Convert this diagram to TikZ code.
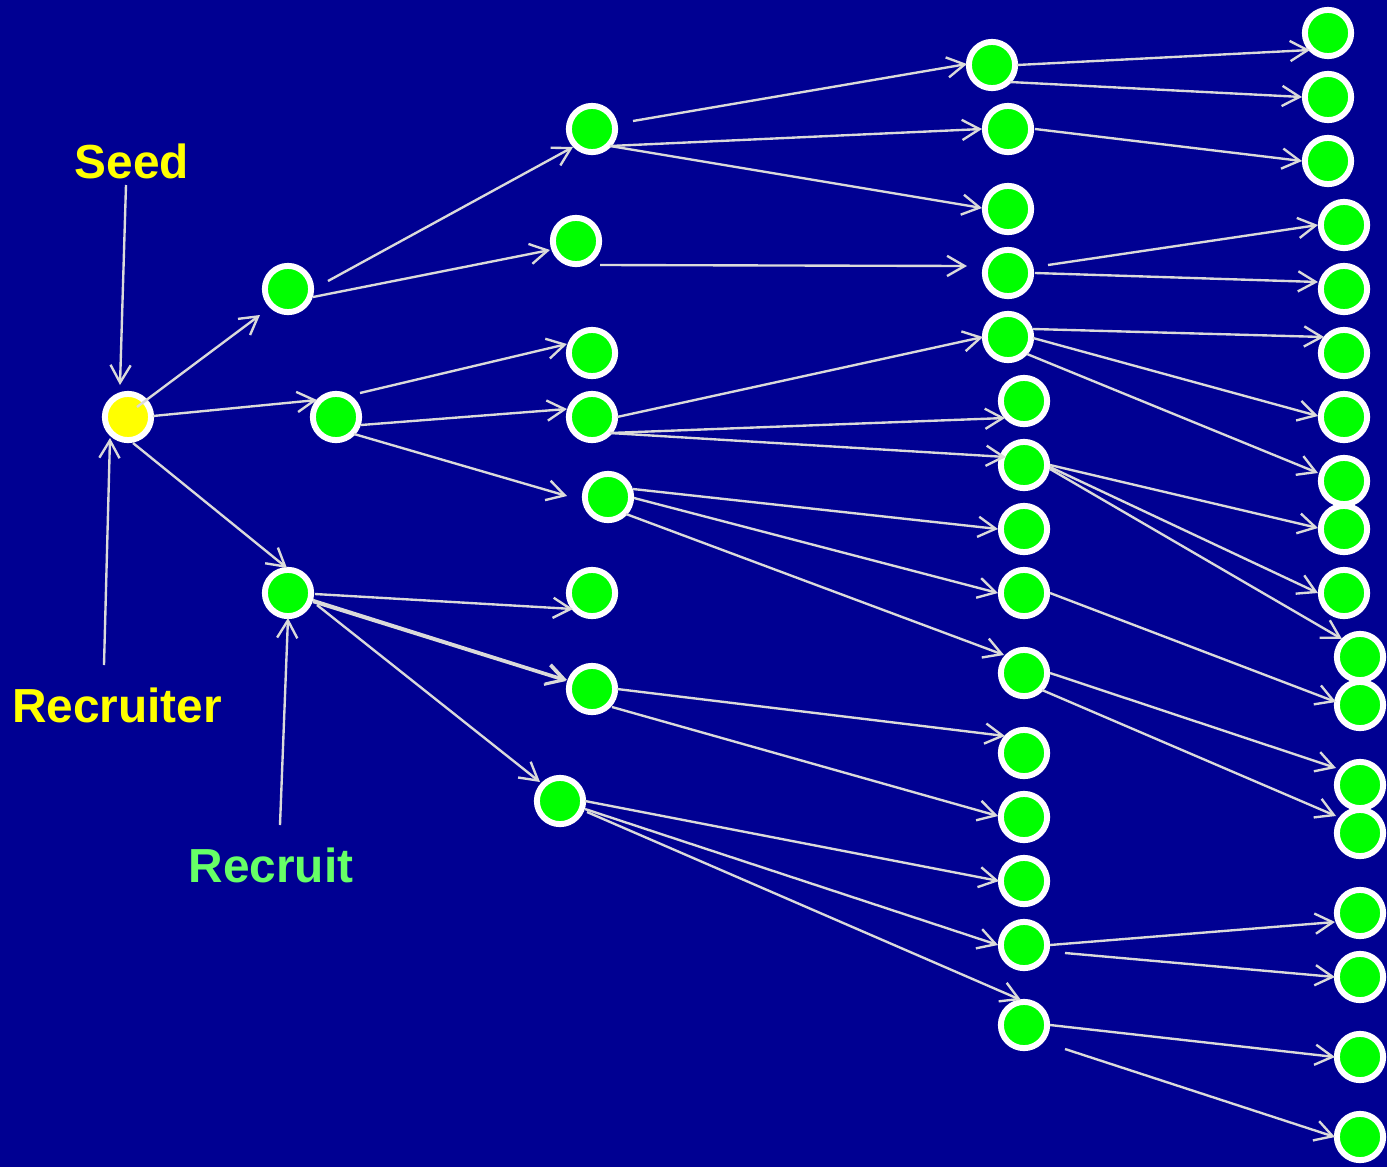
\documentclass[tikz,border=0pt]{standalone}
\usepackage{fontspec}
\setmainfont{Liberation Sans}
\usetikzlibrary{arrows.meta}
\definecolor{bgblue}{RGB}{0,0,146}
\definecolor{edgegray}{RGB}{218,218,218}
\definecolor{nodegreen}{RGB}{0,255,0}
\definecolor{seedyellow}{RGB}{255,255,0}
\definecolor{recruitgreen}{RGB}{102,255,102}
\newcommand\lk[4]{\draw[arr] ([shift={(#2)}]#1.center) -- ([shift={(#4)}]#3.center);}
\begin{document}
\begin{tikzpicture}[x=0.02cm,y=-0.02cm,
  person/.style={circle,draw=white,line width=3.4pt,fill=nodegreen,minimum size=0.925cm,inner sep=0pt},
  seedperson/.style={person,fill=seedyellow},
  arr/.style={draw=edgegray,line width=1.35pt,-{Straight Barb[length=10pt,width=11.5pt,line width=1.35pt]}},
  lbl/.style={font=\fontsize{27.2}{32}\selectfont\bfseries,anchor=base,inner sep=0pt}]
\path[fill=bgblue] (0,0) rectangle (1387,1167);
% labels
\node[lbl,text=seedyellow] (seedlbl) at (132,178) {Seed};
\node[lbl,text=seedyellow] (recruiterlbl) at (117,722) {Recruiter};
\node[lbl,text=recruitgreen] (recruitlbl) at (271,882) {Recruit};
% nodes
\node[seedperson] (S) at (128,417) {};
\node[person] (A1) at (288,289) {};
\node[person] (A2) at (336,417) {};
\node[person] (A3) at (288,593) {};
\node[person] (B1) at (592,129) {};
\node[person] (B2) at (576,241) {};
\node[person] (B3) at (592,353) {};
\node[person] (B4) at (592,417) {};
\node[person] (B5) at (608,497) {};
\node[person] (B6) at (592,593) {};
\node[person] (B7) at (592,689) {};
\node[person] (B8) at (560,801) {};
\node[person] (C1) at (992,65) {};
\node[person] (C2) at (1008,129) {};
\node[person] (C3) at (1008,209) {};
\node[person] (C4) at (1008,273) {};
\node[person] (C5) at (1008,337) {};
\node[person] (C6) at (1024,401) {};
\node[person] (C7) at (1024,465) {};
\node[person] (C8) at (1024,529) {};
\node[person] (C9) at (1024,593) {};
\node[person] (C10) at (1024,673) {};
\node[person] (C11) at (1024,753) {};
\node[person] (C12) at (1024,817) {};
\node[person] (C13) at (1024,881) {};
\node[person] (C14) at (1024,945) {};
\node[person] (C15) at (1024,1025) {};
\node[person] (D1) at (1328,33) {};
\node[person] (D2) at (1328,97) {};
\node[person] (D3) at (1328,161) {};
\node[person] (D4) at (1344,225) {};
\node[person] (D5) at (1344,289) {};
\node[person] (D6) at (1344,353) {};
\node[person] (D7) at (1344,417) {};
\node[person] (D8) at (1344,481) {};
\node[person] (D9) at (1344,529) {};
\node[person] (D10) at (1344,593) {};
\node[person] (D11) at (1360,657) {};
\node[person] (D12) at (1360,705) {};
\node[person] (D13) at (1360,785) {};
\node[person] (D14) at (1360,833) {};
\node[person] (D15) at (1360,913) {};
\node[person] (D16) at (1360,977) {};
\node[person] (D17) at (1360,1057) {};
\node[person] (D18) at (1360,1137) {};
% label pointers
\coordinate (seedtail) at (126,185);
\coordinate (recruitertail) at (104,665);
\coordinate (recruittail) at (280,825);
\draw[arr] (seedtail) -- ([shift={(-8,-32)}]S.center);
\draw[arr] (recruitertail) -- ([shift={(-18,21)}]S.center);
\draw[arr] (recruittail) -- ([shift={(0,25)}]A3.center);
% edges
\lk{S}{9,-10}{A1}{-28,26}
\lk{S}{25,-1}{A2}{-19,-17}
\lk{S}{5,26}{A3}{-1,-25}
\lk{A1}{40,-8}{B1}{-19,18}
\lk{A1}{25,8}{B2}{-26,9}
\lk{A2}{24,-24}{B3}{-25,-9}
\lk{A2}{25,8}{B4}{-25,-8}
\lk{A2}{18,17}{B5}{-41,-1}
\lk{A3}{27,1}{B6}{-19,16}
\lk{A3}{25,7}{B7}{-25,-9}
\lk{A3}{25,9}{B7}{-26,-8}
\lk{A3}{29,12}{B8}{-20,-19}
\lk{B1}{41,-8}{C1}{-25,-1}
\lk{B1}{18,17}{C2}{-26,0}
\lk{B1}{18,17}{C3}{-26,-1}
\lk{B2}{24,24}{C4}{-41,-7}
\lk{B4}{25,0}{C5}{-25,0}
\lk{B4}{18,16}{C6}{-19,17}
\lk{B4}{18,16}{C7}{-18,-8}
\lk{B5}{25,-8}{C8}{-26,0}
\lk{B5}{26,1}{C9}{-26,0}
\lk{B5}{18,17}{C10}{-20,-18}
\lk{B7}{25,0}{C11}{-19,-17}
\lk{B7}{20,18}{C12}{-26,-1}
\lk{B8}{25,0}{C13}{-25,0}
\lk{B8}{25,8}{C14}{-26,0}
\lk{B8}{27,11}{C15}{-3,-25}
\lk{C1}{25,0}{D1}{-18,17}
\lk{C1}{18,17}{D2}{-26,0}
\lk{C2}{27,0}{D3}{-26,0}
\lk{C4}{40,-8}{D4}{-26,0}
\lk{C4}{27,0}{D5}{-26,-7}
\lk{C5}{25,-8}{D6}{-20,-16}
\lk{C5}{25,1}{D7}{-26,-1}
\lk{C5}{19,17}{D8}{-26,-8}
\lk{C7}{26,0}{D9}{-26,-1}
\lk{C7}{26,2}{D10}{-26,0}
\lk{C7}{26,4}{D11}{-18,-18}
\lk{C9}{26,0}{D12}{-24,-3}
\lk{C10}{26,0}{D13}{-24,-17}
\lk{C10}{18,17}{D14}{-24,-17}
\lk{C14}{26,0}{D15}{-25,9}
\lk{C14}{41,8}{D16}{-25,0}
\lk{C15}{26,0}{D17}{-25,0}
\lk{C15}{41,24}{D18}{-25,0}
\end{tikzpicture}
\end{document}
